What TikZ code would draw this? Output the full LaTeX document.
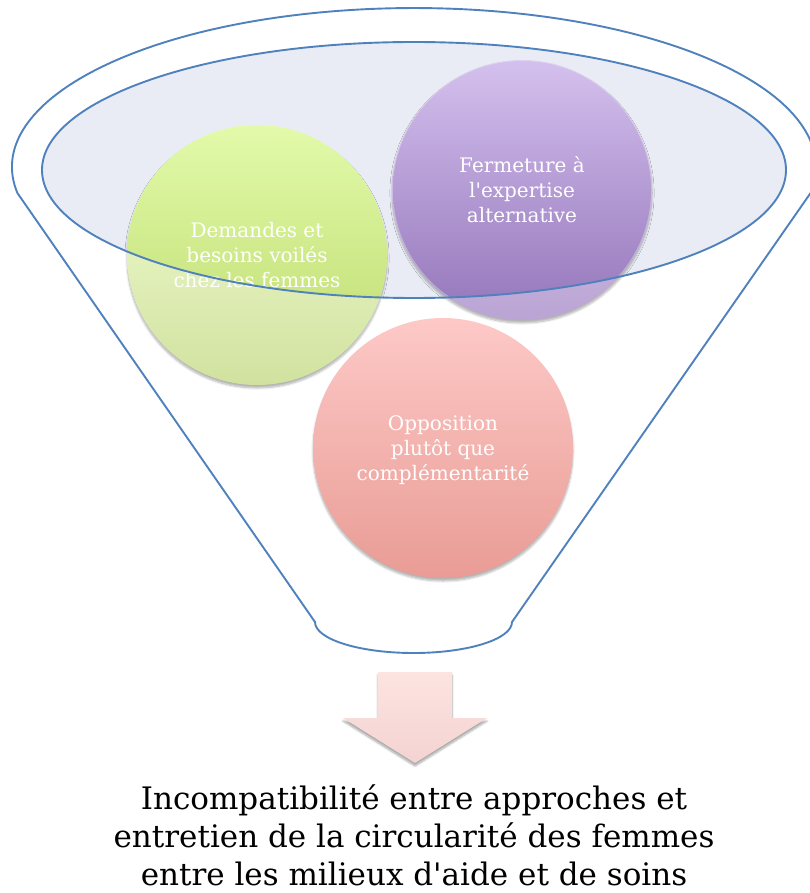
\documentclass[tikz,border=0pt]{standalone}
\usepackage{fontspec}
\setmainfont{DejaVu Serif}[Ligatures=TeXOff]
\usetikzlibrary{shadows.blur}
\definecolor{funnelblue}{HTML}{4F81BD}
\definecolor{rimfill}{HTML}{E9ECF4}

\begin{document}
\begin{tikzpicture}[x=1pt, y=-1pt,
        bubble/.style={circle, minimum size=260pt, inner sep=0pt,
            blur shadow={shadow xshift=0pt, shadow yshift=-3pt, shadow opacity=30, shadow blur steps=6}},
        bubbletext/.style={text=white, align=center, font=\fontsize{20}{25}\selectfont},
        funnelline/.style={draw=funnelblue, line width=1.9pt},
        ]
        \useasboundingbox (0,0) rectangle (810,893);

        %Funnel
        \draw[funnelline] (17.4,193) arc[start angle=170.6, end angle=369.4, x radius=402, y radius=159]
            -- (512,622) arc[start angle=0, end angle=180, x radius=98.5, y radius=31] -- cycle;
        \fill[rimfill] (414,170) ellipse[x radius=372, y radius=128];

        %Nodes
        \node[bubble, top color=green!4!lime!15!white, bottom color={rgb,255:red,209;green,226;blue,159}] (demandes) at (257,255) {};
        \node[bubble, top color={rgb,255:red,222;green,210;blue,240}, bottom color={rgb,255:red,186;green,164;blue,212}] (fermeture) at (522,190) {};
        \node[bubble, top color={rgb,255:red,253;green,201;blue,199}, bottom color={rgb,255:red,233;green,156;blue,149}] (opposition) at (443,448) {};

        \begin{scope}
            \clip (414,170) ellipse[x radius=372, y radius=128];
            \path[top color={rgb,255:red,226;green,250;blue,170}, bottom color={rgb,255:red,189;green,218;blue,108}] (demandes.center) circle[radius=130pt];
            \path[top color={rgb,255:red,212;green,192;blue,238}, bottom color={rgb,255:red,148;green,118;blue,186}] (fermeture.center) circle[radius=129pt];
        \end{scope}

        \node[bubbletext] at (demandes) {Demandes et\\besoins voilés\\chez les femmes};
        \node[bubbletext] at (fermeture) {Fermeture à\\l'expertise\\alternative};
        \node[bubbletext] at ([yshift=-2pt]opposition) {Opposition\\plutôt que\\complémentarité};

        %Lines
        \draw[funnelline] (414,170) ellipse[x radius=372, y radius=128];

        %Arrow
        \path[top color={rgb,255:red,253;green,228;blue,225}, bottom color={rgb,255:red,243;green,211;blue,209},
            blur shadow={shadow xshift=0pt, shadow yshift=-3pt, shadow opacity=35, shadow blur steps=6}]
            (378,672) -- (452,672) -- (452,718) -- (487,718) -- (415,763) -- (343,718) -- (378,718) -- cycle;

        \node[align=center, font=\fontsize{31}{38}\selectfont] (result) at (414,835)
            {Incompatibilité entre approches et\\entretien de la circularité des femmes\\entre les milieux d'aide et de soins};
\end{tikzpicture}
\end{document}
